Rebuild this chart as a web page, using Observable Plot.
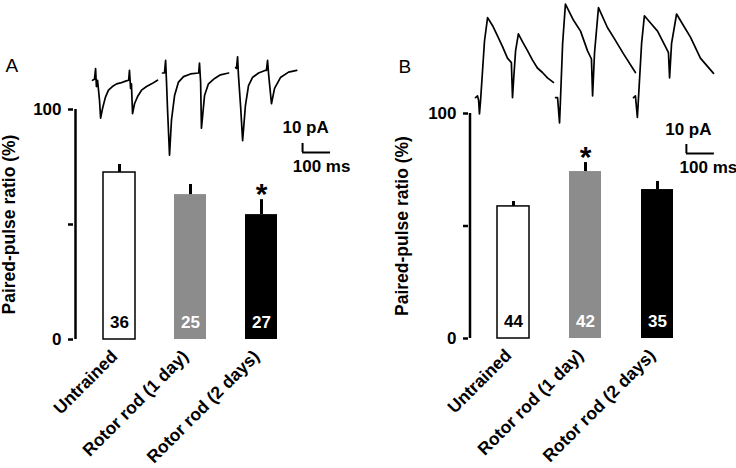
<!DOCTYPE html>
<html><head><meta charset="utf-8">
<script src="https://cdn.jsdelivr.net/npm/d3@7"></script>
<script src="https://cdn.jsdelivr.net/npm/@observablehq/plot@0.6"></script>
<style>
body{margin:0;background:#fff;}
#wrap{position:relative;width:736px;height:468px;overflow:hidden;background:#fff;font-family:"Liberation Sans",Arial,sans-serif;}
#wrap > svg{position:absolute;}
</style></head><body><div id="wrap"></div>
<script>
// ---- bar data ----
const categories = ["Untrained", "Rotor rod (1 day)", "Rotor rod (2 days)"];
const pprA = [72.6, 63.0, 54.3];
const semA = [3.5, 4.4, 6.5];
const nA = [36, 25, 27];
const sigA = [false, false, true];
const pprB = [58.7, 74.2, 66.2];
const semB = [2.2, 4.0, 3.6];
const nB = [44, 42, 35];
const sigB = [false, true, false];
const yTicks = [0, 50, 100];
const yTickLabels = ["0", "", "100"];
const yLabel = "Paired-pulse ratio (%)";
const panelLetters = ["A", "B"];

// ---- example traces: [time (ms), current (pA)] ----
const traceA1 = [[25,0],[32,1],[36,13],[39,-7],[43,0],[50,-22],[54,-42],[61,-31],[71,-19],[82,-11],[96,-7],[111,-4],[125,-3],[143,-1],[154,0],[157,11],[161,-9],[164,-4],[168,-37],[175,-26],[186,-18],[200,-11],[218,-7],[236,-4],[257,0]];
const traceA2 = [[275,8],[282,8],[286,22],[289,0],[293,-33],[300,-83],[307,-44],[318,-17],[332,-2],[350,4],[375,7],[404,8],[407,19],[411,-2],[414,-53],[425,-17],[439,-4],[461,2],[482,6],[511,8]];
const traceA3 = [[536,14],[539,13],[543,26],[546,6],[554,-30],[561,-67],[571,-28],[582,-6],[596,3],[618,8],[643,11],[646,11],[650,22],[654,6],[664,-26],[675,-9],[696,3],[725,9],[754,11]];
const traceB1 = [[18,0],[25,2],[29,-3],[32,-18],[36,-3],[43,30],[50,63],[61,89],[79,80],[96,69],[114,57],[132,44],[146,39],[150,0],[154,20],[161,52],[171,71],[186,62],[204,52],[221,42],[239,33],[257,28],[275,22],[296,17]];
const traceB2 = [[304,0],[311,0],[318,-28],[321,-5],[329,60],[339,104],[368,86],[393,74],[418,52],[432,43],[436,2],[443,50],[457,100],[489,78],[511,67],[546,49],[589,28]];
const traceB3 = [[582,0],[589,2],[596,-22],[600,0],[611,60],[621,91],[643,83],[668,74],[704,52],[707,50],[711,22],[718,60],[736,93],[761,80],[786,67],[821,44],[868,27]];
const scaleBarPA = 10;
const scaleBarMs = 100;
const scaleLabels = ["10 pA", "100 ms"];
const scaleBarA = {t: 775, pA: -80};
const scaleBarB = {t: 771, pA: -62};

const FONT = '"Liberation Sans", Arial, sans-serif';
const wrap = document.getElementById("wrap");

function barPanel(o) {
  const data = categories.map((c, i) => ({cat: c, i, v: o.vals[i], e: o.sems[i], n: o.ns[i], sig: o.sigs[i]}));
  const svg = Plot.plot({
    width: 368, height: 468,
    marginTop: o.marginTop, marginBottom: 468 - o.zeroY, marginLeft: o.marginLeft, marginRight: o.marginRight,
    style: {background: "transparent", overflow: "visible", fontFamily: FONT},
    x: {domain: categories, paddingInner: o.pi, paddingOuter: o.po, axis: null},
    y: {domain: [0, 100], axis: null},
    color: {domain: categories, range: ["#ffffff", "#8c8c8c", "#000000"]},
    marks: [
      Plot.barY(data, {x: "cat", y: "v", fill: "cat"}),
      Plot.barY(data, {filter: d => d.i === 0, x: "cat", y: "v", fill: "none", stroke: "black", strokeWidth: 1.5}),
      Plot.ruleX(data, {x: "cat", y1: "v", y2: d => d.v + d.e, stroke: "black", strokeWidth: 3}),
      Plot.text(data, {filter: d => d.sig, x: "cat", y: d => d.v + d.e, text: () => "*", fontSize: 30, fontWeight: "bold", lineAnchor: "top", dy: -17}),
      Plot.text(data, {filter: d => d.i === 0, x: "cat", y: 0, text: d => String(d.n), dy: -17, lineAnchor: "middle", fill: "black", fontSize: 17, fontWeight: "bold"}),
      Plot.text(data, {filter: d => d.i !== 0, x: "cat", y: 0, text: d => String(d.n), dy: -17, lineAnchor: "middle", fill: "white", fontSize: 17, fontWeight: "bold"}),
      Plot.ruleX([categories[0]], {x: d => d, y1: 0, y2: 100, dx: o.axisDx, stroke: "black", strokeWidth: 2.5}),
      Plot.axisY({ticks: yTicks, tickFormat: d => yTickLabels[yTicks.indexOf(d)], label: null, tickSize: 5, tickPadding: 7, fontSize: 17, fontWeight: "bold", strokeWidth: 2.5, dx: o.axisDx + o.bandHalf}),
      Plot.text([yLabel], {frameAnchor: "left", text: d => d, rotate: -90, dx: o.labelDx, lineAnchor: "middle", textAnchor: "middle", fontSize: 17.5, fontWeight: "bold"}),
      Plot.text(categories, {x: d => d, text: d => d, frameAnchor: "bottom", rotate: -45, textAnchor: "end", lineAnchor: "middle", dy: 14, dx: -5, fontSize: 17.5, fontWeight: "bold"}),
      Plot.text([o.letter], {frameAnchor: "top-left", text: d => d, dx: o.letterDx, dy: o.letterDy, textAnchor: "start", lineAnchor: "middle", fontSize: 19})
    ]
  });
  svg.style.left = o.left + "px";
  svg.style.top = "0px";
  wrap.appendChild(svg);
}

function tracePanel(o) {
  const bar = o.bar;
  const svg = Plot.plot({
    width: o.width, height: o.height, margin: 0,
    style: {background: "transparent", overflow: "visible", fontFamily: FONT},
    x: {domain: o.xDomain, axis: null},
    y: {domain: o.yDomain, axis: null},
    marks: [
      ...o.sweeps.map(s => Plot.line(s, {x: d => d[0], y: d => d[1], stroke: "black", strokeWidth: 1.7})),
      Plot.ruleX([bar], {x: "t", y1: "pA", y2: d => d.pA + scaleBarPA, stroke: "black", strokeWidth: 2}),
      Plot.ruleY([bar], {y: "pA", x1: "t", x2: d => d.t + scaleBarMs, stroke: "black", strokeWidth: 2}),
      Plot.text([bar], {x: "t", y: "pA", text: () => scaleLabels[0], dx: o.pAdx, dy: o.pAdy, lineAnchor: "middle", textAnchor: "middle", fontSize: 17, fontWeight: "bold"}),
      Plot.text([bar], {x: "t", y: "pA", text: () => scaleLabels[1], dx: o.msdx, dy: o.msdy, lineAnchor: "middle", textAnchor: "middle", fontSize: 17, fontWeight: "bold"})
    ]
  });
  svg.style.left = o.left + "px";
  svg.style.top = o.top + "px";
  wrap.appendChild(svg);
}

barPanel({vals: pprA, sems: semA, ns: nA, sigs: sigA, letter: panelLetters[0], left: 0,
  marginTop: 109, zeroY: 339, marginLeft: 73, marginRight: 62, pi: 0.552, po: 0.406,
  axisDx: -44, bandHalf: 44, labelDx: -64, letterDx: -68, letterDy: -44});
barPanel({vals: pprB, sems: semB, ns: nB, sigs: sigB, letter: panelLetters[1], left: 368,
  marginTop: 113, zeroY: 338, marginLeft: 100, marginRight: 34, pi: 0.553, po: 0.385,
  axisDx: -43.5, bandHalf: 43.5, labelDx: -66, letterDx: -70, letterDy: -47});

tracePanel({sweeps: [traceA1, traceA2, traceA3], bar: scaleBarA, left: 85, top: 40, width: 270, height: 140,
  xDomain: [0, 964], yDomain: [-111, 44], pAdx: 3, pAdy: -25, msdx: 19, msdy: 14});
tracePanel({sweeps: [traceB1, traceB2, traceB3], bar: scaleBarB, left: 470, top: 0, width: 266, height: 180,
  xDomain: [0, 950], yDomain: [-92, 108], pAdx: 2, pAdy: -24, msdx: 22, msdy: 14});
</script></body></html>
